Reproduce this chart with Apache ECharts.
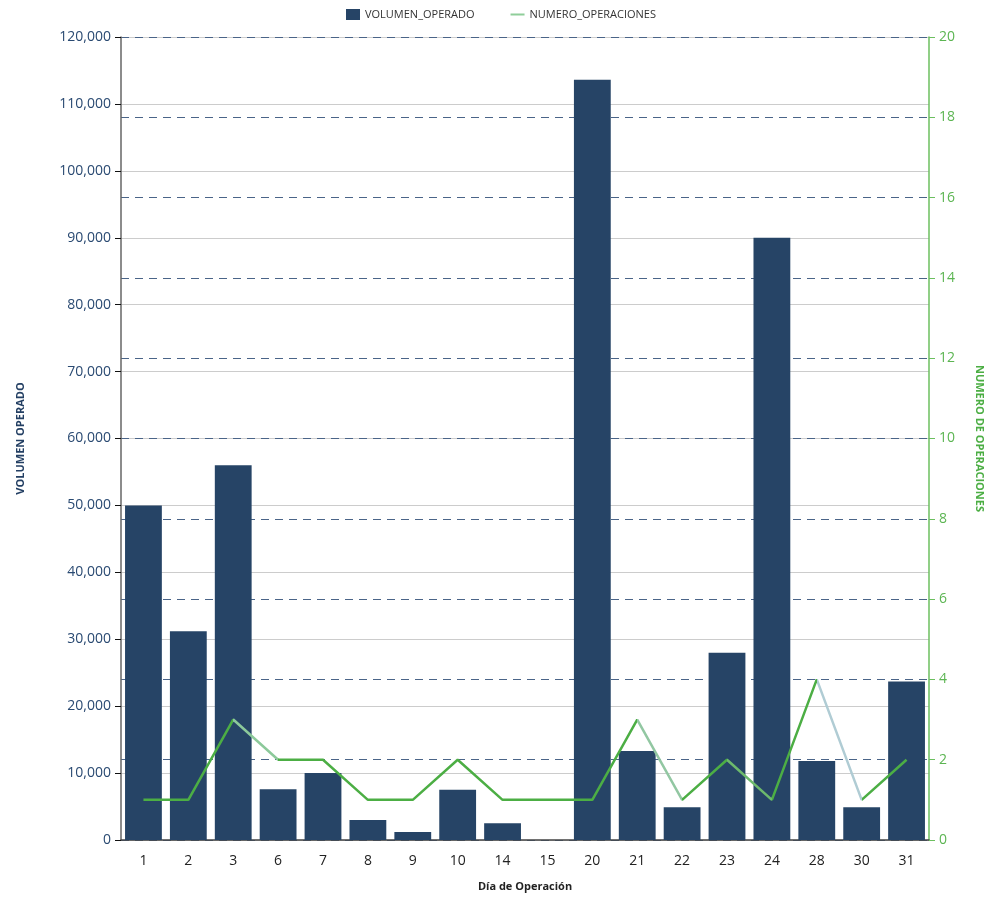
<!DOCTYPE html>
<html>
<head>
<meta charset="utf-8">
<script src="https://cdn.jsdelivr.net/npm/echarts@6/dist/echarts.min.js"></script>
<style>html,body{margin:0;padding:0;background:#fff}#c{width:1002px;height:897px}</style>
</head>
<body>
<div id="c"></div>
<script>
const dias = ['1','2','3','6','7','8','9','10','14','15','20','21','22','23','24','28','30','31'];
const volumenOperado = [50000,31200,56000,7600,10000,3000,1200,7500,2500,0,113600,13300,4900,28000,90000,11800,4900,23700];
const numeroOperaciones = [1,1,3,2,2,1,1,2,1,1,1,3,1,2,1,4,1,2];
const leftTicks = {min:0, max:120000, interval:10000};
const rightTicks = {min:0, max:20, interval:2};

const FONT = '"Open Sans", "Noto Sans", sans-serif';
const GREEN = '#4cae44';
const chart = echarts.init(document.getElementById('c'));
chart.setOption({
  animation:false,
  textStyle:{fontFamily:FONT},
  legend:{
    top:4, left:'center', itemGap:36, itemWidth:14, itemHeight:11,
    textStyle:{fontSize:11, color:'#333', fontFamily:FONT},
    data:[
      {name:'VOLUMEN_OPERADO', icon:'rect', itemStyle:{color:'#264466'}},
      {name:'NUMERO_OPERACIONES', icon:'path://M0,0h0.001v11h-0.001z M0,4.5h14v2h-14z', itemStyle:{color:'#8fce9a'}}
    ]
  },
  grid:{left:121, right:73, top:37, bottom:56},
  xAxis:{
    type:'category', data:dias,
    name:'Día de Operación', nameLocation:'middle', nameGap:41,
    nameTextStyle:{fontWeight:'bold', fontSize:11, color:'#222', fontFamily:FONT},
    axisLine:{lineStyle:{color:'#444', width:1.5}},
    axisTick:{alignWithLabel:true, length:7, lineStyle:{color:'#333'}},
    axisLabel:{fontSize:14, color:'#222', margin:14}
  },
  yAxis:[{
    type:'value', min:leftTicks.min, max:leftTicks.max, interval:leftTicks.interval,
    name:'VOLUMEN OPERADO', nameLocation:'middle', nameGap:95,
    nameTextStyle:{fontWeight:'bold', fontSize:11, color:'#233f63', fontFamily:FONT},
    axisLine:{show:true, lineStyle:{color:'#666', width:1.5}},
    axisTick:{show:true, length:6, lineStyle:{color:'#111'}},
    axisLabel:{fontSize:14, color:'#2a4a72', margin:10,
      formatter:v=>v.toLocaleString('en-US')},
    splitLine:{lineStyle:{color:'#cccccc'}}
  },{
    type:'value', position:'right', min:rightTicks.min, max:rightTicks.max, interval:rightTicks.interval,
    name:'NUMERO DE OPERACIONES', nameLocation:'middle', nameGap:45, nameRotate:-90,
    nameTextStyle:{fontWeight:'bold', fontSize:11, color:'#4cae44', fontFamily:FONT, padding:[0,0,0,0]},
    axisLine:{show:true, lineStyle:{color:'#6cbf5f', width:1.5}},
    axisTick:{show:true, length:6, lineStyle:{color:'#6cbf5f'}},
    axisLabel:{fontSize:14, color:'#5cb552', margin:10},
    splitLine:{lineStyle:{color:'#4a6488', type:[8,6]}}
  }],
  visualMap:{
    show:false, type:'piecewise', seriesIndex:1, dimension:0,
    pieces:[
      {lt:2, color:GREEN},
      {gte:2, lt:3, color:'#8cc99a'},
      {gte:3, lt:11, color:GREEN},
      {gte:11, lt:12, color:'#92c7a2'},
      {gte:12, lt:13, color:GREEN},
      {gte:13, lt:14, color:'#6cb96c'},
      {gte:14, lt:15, color:GREEN},
      {gte:15, lt:16, color:'#b0ccd4'},
      {gte:16, color:GREEN}
    ]
  },
  series:[{
    name:'VOLUMEN_OPERADO', type:'bar', yAxisIndex:0, data:volumenOperado,
    barCategoryGap:'18%', itemStyle:{color:'#264466'}
  },{
    name:'NUMERO_OPERACIONES', type:'line', yAxisIndex:1, data:numeroOperaciones,
    showSymbol:false, symbol:'none', color:'#8fce9a',
    lineStyle:{width:2.5}
  }]
});
</script>
</body>
</html>
